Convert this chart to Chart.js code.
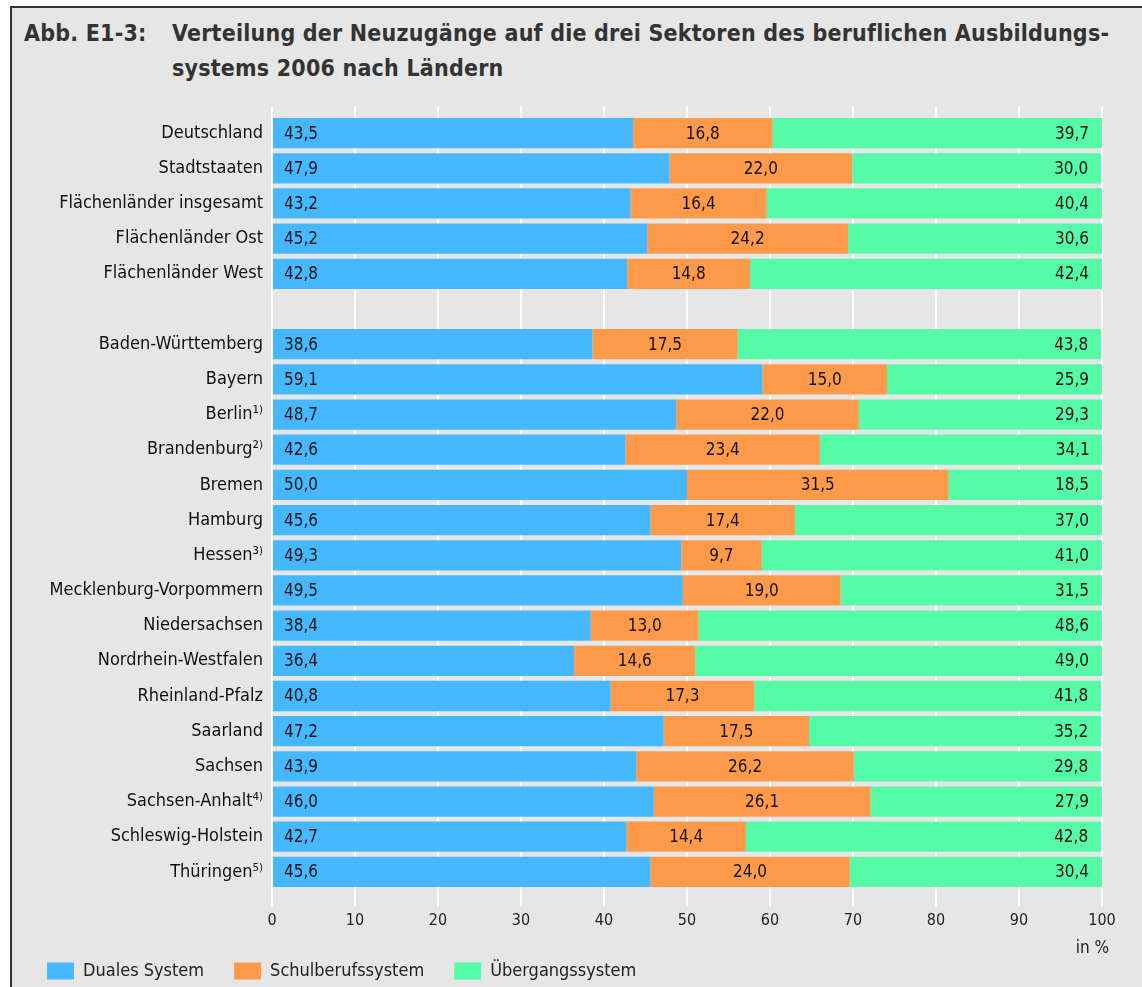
<!DOCTYPE html>
<html lang="de">
<head>
<meta charset="utf-8">
<script src="https://cdn.jsdelivr.net/npm/chart.js@4.4.1/dist/chart.umd.min.js"></script>
<style>
  html, body { margin: 0; padding: 0; background: #fff; overflow: hidden; }
  #frame {
    position: absolute; left: 10px; top: 6px; width: 1132px; height: 981px;
    background: #e6e6e6; border-left: 2px solid #333; border-top: 2px solid #333;
  }
  .title {
    position: absolute; top: 16px; font-family: "DejaVu Sans Condensed", "DejaVu Sans", sans-serif;
    font-weight: bold; font-size: 23px; letter-spacing: 0.2px; line-height: 35px; color: #333; white-space: nowrap;
  }
  #abb { left: 24px; }
  #ttl { left: 172px; }
  #wrap { position: absolute; left: 0; top: 0; width: 1142px; height: 990px; }
</style>
</head>
<body>
<div id="frame"></div>
<div class="title" id="abb">Abb. E1-3:</div>
<div class="title" id="ttl">Verteilung der Neuzugänge auf die drei Sektoren des beruflichen Ausbildungs-<br>systems 2006 nach Ländern</div>
<div id="wrap"><canvas id="chart"></canvas></div>
<script>
// Länder / Gruppen (leere Zeile als Trenner)
const laender = ['Deutschland', 'Stadtstaaten', 'Flächenländer insgesamt', 'Flächenländer Ost', 'Flächenländer West', '',
  'Baden-Württemberg', 'Bayern', 'Berlin¹⁾', 'Brandenburg²⁾', 'Bremen', 'Hamburg', 'Hessen³⁾',
  'Mecklenburg-Vorpommern', 'Niedersachsen', 'Nordrhein-Westfalen', 'Rheinland-Pfalz', 'Saarland',
  'Sachsen', 'Sachsen-Anhalt⁴⁾', 'Schleswig-Holstein', 'Thüringen⁵⁾'];
const duales = [43.5, 47.9, 43.2, 45.2, 42.8, null,
  38.6, 59.1, 48.7, 42.6, 50.0, 45.6, 49.3, 49.5, 38.4, 36.4, 40.8, 47.2, 43.9, 46.0, 42.7, 45.6];
const schulberuf = [16.8, 22.0, 16.4, 24.2, 14.8, null,
  17.5, 15.0, 22.0, 23.4, 31.5, 17.4, 9.7, 19.0, 13.0, 14.6, 17.3, 17.5, 26.2, 26.1, 14.4, 24.0];
const uebergang = [39.7, 30.0, 40.4, 30.6, 42.4, null,
  43.8, 25.9, 29.3, 34.1, 18.5, 37.0, 41.0, 31.5, 48.6, 49.0, 41.8, 35.2, 29.8, 27.9, 42.8, 30.4];
const xTicks = [0, 10, 20, 30, 40, 50, 60, 70, 80, 90, 100];

const FONT = '"DejaVu Sans Condensed", "DejaVu Sans", sans-serif';
const fmt = v => v.toFixed(1).replace('.', ',');

// Gitterlinien oben etwas verlängern
const gridTop = {
  id: 'gridTop',
  beforeDatasetsDraw(chart) {
    const { ctx, chartArea, scales: { x } } = chart;
    ctx.save();
    ctx.strokeStyle = '#fff';
    ctx.lineWidth = 2;
    xTicks.forEach(t => {
      const px = Math.round(x.getPixelForValue(t));
      ctx.beginPath();
      ctx.moveTo(px, chartArea.top - 9);
      ctx.lineTo(px, chartArea.top);
      ctx.stroke();
    });
    ctx.restore();
  }
};

// Werte in die Balken schreiben
const valueLabels = {
  id: 'valueLabels',
  afterDatasetsDraw(chart) {
    const { ctx } = chart;
    ctx.save();
    ctx.font = '17px ' + FONT;
    ctx.fillStyle = '#111';
    ctx.textBaseline = 'middle';
    chart.data.datasets.forEach((ds, i) => {
      chart.getDatasetMeta(i).data.forEach((bar, j) => {
        const v = ds.data[j];
        if (v == null) return;
        const p = bar.getProps(['x', 'y', 'base'], true);
        if (i === 0) { ctx.textAlign = 'left'; ctx.fillText(fmt(v), p.base + 11, p.y + 1); }
        else if (i === 1) { ctx.textAlign = 'center'; ctx.fillText(fmt(v), (p.base + p.x) / 2, p.y + 1); }
        else { ctx.textAlign = 'right'; ctx.fillText(fmt(v), p.x - 13, p.y + 1); }
      });
    });
    // Einheit unter der Achse
    const x = chart.scales.x;
    ctx.textAlign = 'right';
    ctx.fillStyle = '#222';
    ctx.fillText('in %', x.right + 7, x.bottom + 17);
    ctx.restore();
  }
};

new Chart(document.getElementById('chart'), {
  type: 'bar',
  data: {
    labels: laender,
    datasets: [
      { label: 'Duales System', data: duales, backgroundColor: '#45b8ff', borderWidth: 0 },
      { label: 'Schulberufssystem', data: schulberuf, backgroundColor: '#ff9a4a', borderWidth: 0 },
      { label: 'Übergangssystem', data: uebergang, backgroundColor: '#55fba6', borderWidth: 0 }
    ]
  },
  options: {
    indexAxis: 'y',
    responsive: true,
    maintainAspectRatio: false,
    animation: false,
    layout: { padding: { top: 115.5, left: 17, right: 40, bottom: 0 } },
    datasets: { bar: { barPercentage: 0.86, categoryPercentage: 1 } },
    scales: {
      x: {
        stacked: true, min: 0, max: 100,
        afterBuildTicks: s => { s.ticks = xTicks.map(v => ({ value: v })); },
        afterFit: s => { s.height = 42.5; },
        grid: { color: '#fff', lineWidth: 2, tickLength: 17, tickColor: '#fff' },
        border: { display: false },
        ticks: { padding: 5, color: '#222', font: { family: FONT, size: 16 } }
      },
      y: {
        stacked: true,
        afterFit: s => { s.width = 255; },
        grid: { display: false, drawTicks: false },
        border: { display: false },
        ticks: { padding: 9, color: '#111', font: { family: FONT, size: 18 }, autoSkip: false }
      }
    },
    plugins: {
      legend: {
        position: 'bottom', align: 'start',
        labels: { boxWidth: 27, boxHeight: 17, padding: 30, color: '#222', font: { family: FONT, size: 18 } }
      },
      tooltip: { enabled: false }
    }
  },
  plugins: [gridTop, valueLabels]
});
</script>
</body>
</html>
